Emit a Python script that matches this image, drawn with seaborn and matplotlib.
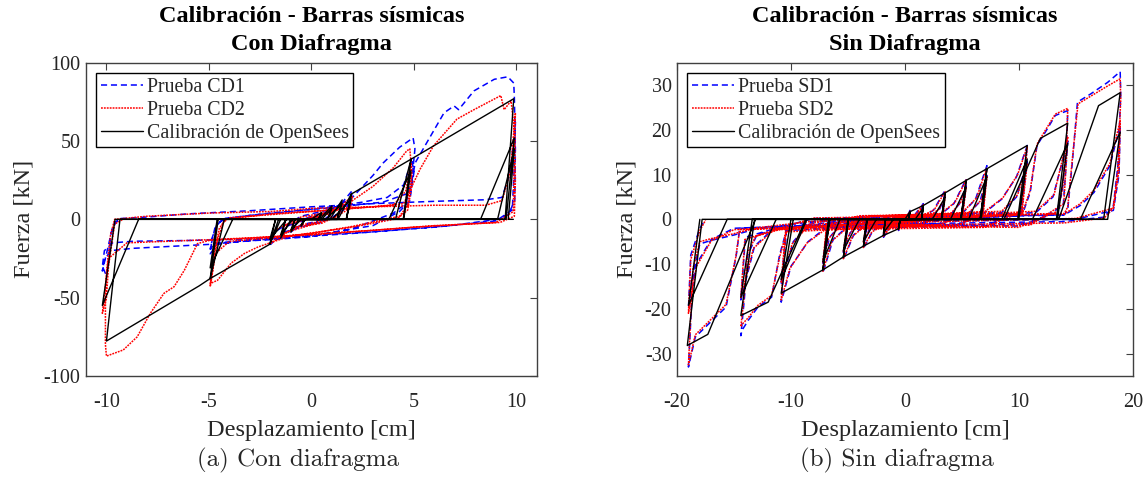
import matplotlib
matplotlib.use("Agg")
import matplotlib.pyplot as plt
import pandas as pd
import seaborn as sns

# ---- hysteresis paths: (displacement [cm], force [kN]) ----
# Con diafragma
cd1_pts = [
    (0.0, 0.0), (0.5, 3.0), (1.0, 7.0), (0.9, 2.0), (0.2, -1.5), (-0.5, -3.5), (-1.0, -8.0),
    (-0.9, -3.0), (0.0, 1.0), (0.9, 4.0), (1.5, 11.0), (1.4, 4.0), (0.5, -2.0), (-0.8, -5.0),
    (-1.5, -12.0), (-1.3, -5.0), (0.0, 2.0), (1.2, 6.0), (2.0, 18.5), (1.9, 9.0), (1.0, 1.0),
    (-0.5, -5.0), (-1.3, -8.0), (-2.0, -16.0), (-1.8, -8.0), (-0.5, 2.0),
    (1.0, 6.5), (2.0, 14.0), (3.0, 28.0), (3.5, 36.0), (4.3, 46.0), (4.96, 52.0), (5.05, 45.0),
    (4.9, 25.0), (4.6, 10.0), (4.0, 4.0), (2.0, -6.0), (0.0, -11.0), (-2.0, -13.0), (-3.5, -14.0),
    (-4.6, -16.0), (-4.94, -22.0), (-4.85, -12.0), (-4.6, -3.0), (-4.2, 0.5), (-3.0, 2.5),
    (-1.0, 5.0), (1.0, 8.0), (2.5, 11.0), (3.7, 14.0), (4.5, 22.0), (4.9, 38.0), (5.0, 30.0),
    (4.8, 12.0), (4.3, 5.0), (3.0, -4.0), (0.0, -10.5), (-3.0, -13.5), (-4.7, -15.0),
    (-4.94, -19.0), (-4.7, -5.0), (-4.3, 0.5), (-2.0, 4.0), (1.0, 7.5), (3.5, 11.0), (4.8, 17.0),
    (5.06, 36.0), (5.63, 49.0), (6.47, 68.0), (6.96, 72.4), (7.18, 70.0), (7.93, 82.0),
    (8.92, 89.4), (9.58, 91.0), (9.87, 87.0), (9.9, 78.0), (9.95, 45.0), (9.92, 12.0), (9.6, 3.0),
    (9.1, 0.0), (6.78, -4.0), (2.68, -8.3), (-0.6, -10.4), (-3.0, -12.5), (-6.0, -13.5),
    (-8.7, -14.0), (-9.7, -15.0), (-10.1, -20.0), (-10.2, -30.0), (-10.0, -36.0), (-9.9, -28.0),
    (-9.8, -10.0), (-9.6, -2.0), (-9.3, 0.5), (-8.0, 1.5), (-6.0, 3.5), (-3.0, 5.5), (0.0, 8.0),
    (3.0, 10.0), (6.0, 11.5), (8.5, 12.5), (9.3, 14.0), (9.7, 30.0), (9.9, 55.0), (9.95, 62.0),
    (9.9, 35.0), (9.8, 6.0), (9.0, -1.0), (6.0, -5.0), (2.0, -9.0), (-2.0, -12.5), (-5.0, -16.0),
    (-8.7, -18.5), (-9.8, -20.0), (-10.1, -26.0), (-10.2, -33.0), (-10.0, -22.0), (-9.7, -5.0),
    (-9.4, 0.0),
]
cd2_pts = [
    (0.0, 0.0), (0.5, 2.5), (1.0, 6.5), (0.9, 1.5), (0.2, -2.0), (-0.5, -3.5), (-1.0, -7.5),
    (-0.9, -2.5), (0.0, 1.0), (0.9, 3.5), (1.5, 10.0), (1.4, 3.0), (0.5, -2.5), (-0.8, -5.0),
    (-1.5, -11.0), (-1.3, -4.0), (0.0, 1.5), (1.2, 5.5), (2.0, 15.0), (1.9, 7.0), (1.0, 0.5),
    (-0.5, -5.5), (-1.3, -8.5), (-2.0, -15.5), (-1.8, -7.0), (-0.5, 1.5),
    (1.0, 5.0), (2.0, 12.0), (3.0, 21.0), (4.0, 33.0), (4.65, 43.7), (4.8, 45.0), (4.9, 30.0),
    (4.7, 9.0), (4.3, 2.0), (2.0, -4.5), (0.0, -9.0), (-2.0, -12.0), (-4.0, -14.0), (-4.7, -22.0),
    (-4.94, -43.0), (-4.85, -36.0), (-4.6, -14.0), (-4.3, -2.0), (-4.0, 1.0), (-2.0, 3.0),
    (0.0, 5.0), (2.0, 7.0), (4.0, 9.0), (4.6, 18.0), (4.85, 35.0), (4.9, 22.0), (4.7, 6.0),
    (4.2, 0.5), (2.0, -5.0), (-1.0, -10.5), (-2.6, -17.6), (-3.27, -21.8), (-3.92, -28.0),
    (-4.58, -38.9), (-4.94, -41.0), (-4.8, -25.0), (-4.5, -6.0), (-4.2, 0.0), (-2.0, 3.5),
    (1.0, 6.0), (3.0, 8.0), (4.5, 10.0),
    (5.3, 32.0), (5.96, 47.0), (7.1, 64.0), (7.93, 70.0), (9.24, 79.0), (9.4, 70.0),
    (9.74, 75.6), (9.9, 57.0), (9.95, 25.0), (9.9, 2.0), (9.2, -2.0), (6.0, -4.0), (3.0, -7.0),
    (0.0, -9.4), (-3.0, -12.0), (-5.0, -13.5), (-5.56, -15.5), (-6.2, -32.5), (-6.7, -43.0),
    (-7.2, -47.3), (-7.86, -60.0), (-8.5, -75.0), (-9.18, -83.4), (-10.0, -87.3),
    (-10.05, -80.0), (-10.05, -55.0), (-10.0, -34.0), (-9.8, -10.0), (-9.6, 0.0), (-8.0, 2.0),
    (-5.0, 4.0), (-2.0, 5.0), (0.0, 7.0), (3.0, 8.0), (6.0, 9.0), (8.5, 9.0), (9.3, 12.0),
    (9.7, 30.0), (9.9, 60.0), (9.95, 68.0), (9.9, 40.0), (9.85, 5.0), (9.0, -2.0), (5.0, -5.0),
    (0.0, -10.0), (-5.0, -13.0), (-9.0, -15.0), (-9.9, -25.0), (-10.2, -60.0), (-10.0, -50.0),
    (-9.9, -30.0), (-9.6, -3.0), (-9.2, 0.0),
]
os_cd_pts = [
    (0.0, 0.0), (0.5, 4.5), (0.35, 0.0), (-0.3, 0.0), (-0.5, -4.3), (-0.35, 0.0),
    (0.3, 0.0), (0.5, 3.6), (0.35, 0.0), (-0.3, 0.0), (-0.5, -3.5), (-0.35, 0.0),
    (0.4, 0.0), (1.0, 8.6), (0.8, 0.0), (-0.6, 0.0), (-1.0, -8.2), (-0.8, 0.0),
    (0.5, 0.0), (1.0, 7.0), (0.8, 0.0), (-0.5, 0.0), (-1.0, -6.8), (-0.8, 0.0),
    (0.9, 0.0), (1.5, 12.4), (1.25, 0.0), (-1.0, 0.0), (-1.5, -12.0), (-1.25, 0.0),
    (0.7, 0.0), (1.5, 10.2), (1.25, 0.0), (-0.9, 0.0), (-1.5, -9.8), (-1.25, 0.0),
    (1.3, 0.0), (1.94, 16.1), (1.7, 0.0), (-1.5, 0.0), (-2.03, -15.9), (-1.75, 0.0),
    (1.0, 0.0), (1.94, 13.0), (1.7, 0.0), (-1.2, 0.0), (-2.03, -12.8), (-1.75, 0.0),
    (1.7, 0.0), (1.94, 16.1), (4.86, 38.4), (4.48, 0.0), (-1.6, 0.0), (-2.03, -15.9),
    (-4.94, -37.8), (-4.55, 0.0), (3.78, 0.0), (4.86, 31.0), (4.5, 0.0), (-3.84, 0.0),
    (-4.94, -31.0), (-4.6, 0.0), (4.1, 0.0), (4.86, 38.4), (9.87, 77.0), (9.45, 0.0),
    (-4.25, 0.0), (-4.94, -37.8), (-5.48, -42.5), (-10.0, -77.7), (-9.34, 0.0),
    (8.25, 0.0), (9.9, 52.0), (9.5, 0.0), (-8.43, 0.0), (-10.2, -55.0), (-9.58, 0.0),
    (9.08, 0.0), (9.9, 45.0), (9.6, 0.0), (9.85, 0.0),
]

# Sin diafragma
sd1_pts = [
    (0.0, 0.0), (0.44, 2.0), (0.2, 0.3), (-0.3, -0.3), (-0.56, -2.5), (-0.3, -0.4), (0.2, 0.2),
    (0.8, 0.8), (1.62, 3.5), (1.4, 0.2), (0.5, -0.6), (-1.0, -0.8), (-1.88, -4.0), (-1.6, -0.6),
    (-0.5, 0.4), (0.9, 0.5), (1.62, 3.0), (1.35, 0.1), (-1.0, -0.5), (-1.88, -3.4), (-1.6, -0.4),
    (1.5, 0.5), (2.5, 2.0), (3.53, 6.5), (3.2, 0.3), (1.5, -0.8), (-1.8, -1.0), (-2.8, -2.5),
    (-3.64, -6.5), (-3.3, -0.7), (-1.5, 0.5), (2.2, 0.6), (3.0, 2.0), (3.53, 5.2), (3.25, 0.2),
    (-2.3, -0.6), (-3.1, -2.0), (-3.64, -5.3), (-3.3, -0.5),
    (3.0, 0.8), (4.3, 3.5), (5.38, 9.0), (5.0, 0.5), (3.0, -1.0), (-3.5, -1.2), (-4.5, -3.5),
    (-5.4, -9.0), (-5.0, -1.0), (-3.0, 0.6), (4.0, 1.0), (4.8, 3.5), (5.38, 7.5), (5.0, 0.4),
    (-4.0, -0.8), (-4.8, -3.0), (-5.4, -7.4), (-5.0, -0.7),
    (5.0, 1.2), (6.2, 4.5), (7.2, 12.0), (6.8, 0.8), (4.5, -1.2), (-5.0, -1.5), (-6.3, -4.5),
    (-7.2, -12.0), (-6.8, -1.2), (-4.0, 0.6), (5.5, 1.0), (6.6, 4.0), (7.2, 9.8), (6.8, 0.6),
    (-5.6, -1.0), (-6.6, -4.0), (-7.2, -9.8), (-6.8, -0.8),
    (7.0, 1.5), (8.5, 4.5), (9.8, 9.5), (10.74, 16.5), (10.2, 1.5), (7.0, -1.5), (-7.0, -2.0),
    (-8.5, -5.0), (-10.0, -10.5), (-10.86, -18.5), (-10.4, -2.5), (-8.0, -0.5), (-4.0, 0.5),
    (8.5, 1.5), (9.8, 5.0), (10.74, 13.0), (10.2, 0.8), (-8.6, -1.5), (-9.8, -5.0),
    (-10.86, -14.5), (-10.4, -1.8),
    (10.3, 1.0), (11.0, 6.0), (11.6, 16.5), (12.5, 20.2), (13.2, 23.2), (14.3, 24.3),
    (14.2, 17.0), (13.8, 6.0), (13.3, 1.5), (10.0, -1.5), (0.0, -1.2), (-10.4, -2.5),
    (-11.0, -8.0), (-11.7, -17.4), (-12.9, -19.6), (-13.76, -22.6), (-14.3, -24.8),
    (-14.4, -26.0), (-14.1, -18.0), (-13.8, -8.0), (-13.0, -3.5), (-11.0, -2.0), (-8.0, -1.0),
    (0.0, 0.3), (11.5, 1.5), (13.0, 5.0), (14.3, 17.5), (13.9, 3.0), (11.0, -1.0), (0.0, -1.5),
    (-11.5, -2.0), (-13.2, -6.0), (-14.4, -18.0), (-14.0, -4.0), (-12.0, -2.5), (-8.0, 0.2),
    (14.0, 1.0), (14.3, 2.3), (14.7, 12.7), (15.15, 26.2), (16.3, 28.0), (17.8, 30.6),
    (18.9, 33.0), (18.95, 28.0), (18.7, 12.0), (18.3, 3.0), (17.5, 0.5), (14.0, -0.5),
    (0.0, -1.0), (-14.5, -2.0), (-14.8, -8.0), (-15.7, -19.6), (-17.2, -23.3), (-18.4, -26.3),
    (-19.0, -33.0), (-18.9, -28.0), (-18.6, -12.0), (-18.0, -5.5), (-17.0, -4.7),
    (-15.0, -3.5), (-13.0, -2.1), (-8.0, -0.5), (0.0, 0.2),
    (14.0, 1.0), (15.4, 3.1), (16.6, 6.0), (18.0, 12.0), (18.9, 21.0), (18.8, 10.0),
    (18.3, 2.0), (15.0, 0.0), (0.0, -0.5), (-15.0, -2.0), (-17.0, -4.5), (-18.3, -10.0),
    (-19.0, -20.0), (-18.8, -8.0), (-18.0, -2.0), (-17.5, 0.0),
]
sd2_pts = [
    (0.0, 0.0), (0.44, 1.8), (0.25, 0.2), (-0.3, -0.5), (-0.56, -2.3), (-0.35, -0.5), (0.2, 0.3),
    (0.9, 1.0), (1.62, 3.3), (1.45, 0.4), (0.5, -0.8), (-1.0, -1.0), (-1.88, -3.8), (-1.65, -0.8),
    (-0.5, 0.5), (0.9, 0.7), (1.62, 2.8), (1.4, 0.3), (-1.0, -0.7), (-1.88, -3.2), (-1.65, -0.6),
    (1.5, 0.7), (2.6, 2.2), (3.53, 6.2), (3.25, 0.5), (1.5, -1.0), (-1.8, -1.3), (-2.9, -2.8),
    (-3.64, -6.3), (-3.35, -0.9), (-1.5, 0.6), (2.2, 0.8), (3.0, 2.3), (3.53, 5.0), (3.3, 0.4),
    (-2.3, -0.9), (-3.1, -2.3), (-3.64, -5.1), (-3.35, -0.7),
    (3.0, 1.0), (4.4, 3.8), (5.38, 8.8), (5.05, 0.7), (3.0, -1.2), (-3.5, -1.5), (-4.6, -3.8),
    (-5.4, -8.8), (-5.05, -1.2), (-3.0, 0.7), (4.0, 1.2), (4.9, 3.8), (5.38, 7.2), (5.05, 0.6),
    (-4.0, -1.0), (-4.9, -3.3), (-5.4, -7.2), (-5.05, -0.9),
    (5.0, 1.4), (6.3, 4.8), (7.2, 11.6), (6.85, 1.0), (4.5, -1.4), (-5.0, -1.8), (-6.4, -4.8),
    (-7.2, -11.6), (-6.85, -1.4), (-4.0, 0.8), (5.5, 1.2), (6.7, 4.3), (7.2, 9.5), (6.85, 0.8),
    (-5.6, -1.3), (-6.7, -4.3), (-7.2, -9.5), (-6.85, -1.0),
    (7.0, 1.7), (8.6, 4.8), (9.9, 10.0), (10.74, 16.2), (10.25, 1.8), (7.0, -1.8),
    (-7.0, -2.3), (-8.6, -5.3), (-10.1, -11.0), (-10.86, -18.0), (-10.45, -2.8), (-8.0, -0.8),
    (-4.0, 0.6), (8.5, 1.8), (9.9, 5.5), (10.74, 12.5), (10.25, 1.0), (-8.6, -1.8),
    (-9.9, -5.5), (-10.86, -14.0), (-10.45, -2.0),
    (10.3, 1.3), (11.0, 6.5), (11.6, 16.8), (12.5, 20.6), (13.2, 23.5), (14.3, 24.8),
    (14.2, 18.0), (13.85, 7.0), (13.4, 1.8), (10.0, -1.8), (0.0, -1.5), (-10.4, -2.8),
    (-11.0, -8.5), (-11.7, -17.0), (-12.9, -19.2), (-13.76, -22.0), (-14.3, -23.5),
    (-14.4, -24.0), (-14.1, -17.0), (-13.8, -7.5), (-13.1, -3.8), (-11.0, -2.3), (-8.0, -1.2),
    (0.0, 0.4), (11.5, 1.8), (13.1, 5.5), (14.3, 18.5), (13.95, 3.5), (11.0, -1.3), (0.0, -1.8),
    (-11.5, -2.3), (-13.3, -6.5), (-14.4, -17.5), (-14.05, -4.5), (-12.0, -2.8), (-8.0, 0.3),
    (14.0, 1.3), (14.3, 2.8), (14.7, 13.5), (15.2, 25.8), (16.3, 27.5), (17.8, 29.8),
    (18.9, 31.4), (18.95, 27.0), (18.7, 11.0), (18.3, 2.5), (17.5, 0.3), (14.0, -0.8),
    (0.0, -1.3), (-14.5, -2.3), (-14.85, -8.5), (-15.7, -19.0), (-17.2, -22.8), (-18.4, -25.8),
    (-19.0, -32.5), (-18.9, -27.0), (-18.6, -11.0), (-18.0, -5.0), (-17.0, -4.3),
    (-15.0, -3.2), (-13.0, -1.9), (-8.0, -0.4), (0.0, 0.3),
    (14.0, 1.2), (15.4, 3.5), (16.6, 6.5), (18.0, 12.5), (18.9, 22.0), (18.8, 11.0),
    (18.3, 2.5), (15.0, 0.2), (0.0, -0.7), (-15.0, -2.3), (-17.0, -4.8), (-18.3, -10.5),
    (-19.0, -21.0), (-18.8, -9.0), (-18.0, -2.5), (-17.5, -0.2),
]
os_sd_pts = [
    (0.0, 0.0), (0.44, 1.7), (0.3, 0.0), (-0.4, 0.0), (-0.56, -2.1), (-0.4, 0.0),
    (0.3, 0.0), (0.44, 1.4), (0.32, 0.0), (-0.4, 0.0), (-0.56, -1.7), (-0.42, 0.0),
    (0.3, 0.0), (0.44, 1.7), (1.62, 3.1), (1.45, 0.0), (-0.4, 0.0), (-0.56, -2.1),
    (-1.88, -3.6), (-1.7, 0.0), (0.9, 0.0), (1.62, 2.6), (1.48, 0.0), (-1.0, 0.0),
    (-1.88, -3.0), (-1.72, 0.0),
    (1.45, 0.0), (1.62, 3.1), (3.53, 5.9), (3.2, 0.0), (-1.7, 0.0), (-1.88, -3.6),
    (-3.64, -6.0), (-3.3, 0.0), (2.4, 0.0), (3.53, 4.9), (3.25, 0.0), (-2.5, 0.0),
    (-3.64, -5.0), (-3.35, 0.0),
    (3.2, 0.0), (3.53, 5.9), (5.38, 8.7), (4.9, 0.0), (-3.3, 0.0), (-3.64, -6.0),
    (-5.4, -8.4), (-4.95, 0.0), (4.0, 0.0), (5.38, 7.2), (4.95, 0.0), (-4.0, 0.0),
    (-5.4, -7.0), (-5.0, 0.0),
    (4.9, 0.0), (5.38, 8.7), (7.2, 11.3), (6.6, 0.0), (-4.95, 0.0), (-5.4, -8.4),
    (-7.2, -11.3), (-6.6, 0.0), (5.6, 0.0), (7.2, 9.5), (6.7, 0.0), (-5.7, 0.0),
    (-7.2, -9.5), (-6.7, 0.0),
    (6.6, 0.0), (7.2, 11.3), (10.74, 16.5), (9.9, 0.0), (-6.6, 0.0), (-7.2, -11.3),
    (-10.86, -16.5), (-9.8, 0.0), (8.5, 0.0), (10.74, 13.5), (10.0, 0.0), (-8.6, 0.0),
    (-10.86, -13.5), (-10.0, 0.0),
    (8.7, 0.0), (11.9, 18.1), (14.3, 21.5), (13.3, 0.0), (-8.7, 0.0), (-12.0, -18.5),
    (-14.4, -21.5), (-13.2, 0.0), (11.2, 0.0), (14.3, 17.0), (13.4, 0.0), (-11.3, 0.0),
    (-14.4, -17.4), (-13.4, 0.0),
    (13.5, 0.0), (17.0, 25.4), (18.9, 28.3), (17.45, 0.0), (-13.1, 0.0), (-17.3, -25.7),
    (-19.1, -28.2), (-17.8, 0.0), (15.4, 0.0), (18.9, 19.5), (17.8, 0.0), (-15.6, 0.0),
    (-19.0, -19.2), (-18.0, 0.0),
]

cd_labels = ["Prueba CD1", "Prueba CD2", "Calibración de OpenSees"]
sd_labels = ["Prueba SD1", "Prueba SD2", "Calibración de OpenSees"]
cd_xticks = [-10, -5, 0, 5, 10]
cd_yticks = [-100, -50, 0, 50, 100]
sd_xticks = [-20, -10, 0, 10, 20]
sd_yticks = [-30, -20, -10, 0, 10, 20, 30]

sns.set_theme(style="white")
plt.rcParams["font.family"] = ["Liberation Serif", "DejaVu Serif"]
plt.rcParams["axes.unicode_minus"] = False

AX_COLOR = "0.25"
TXT_COLOR = "#262626"


def path_frame(pts):
    return pd.DataFrame(pts, columns=["x", "y"])


def draw_panel(ax, test1, test2, calib, labels, xlim, ylim, xticks, yticks, title):
    sns.lineplot(data=path_frame(test1), x="x", y="y", sort=False, estimator=None,
                 color="#0000ff", linewidth=1.1, label=labels[0], ax=ax)
    ax.lines[-1].set_dashes((4, 2.5))
    sns.lineplot(data=path_frame(test2), x="x", y="y", sort=False, estimator=None,
                 color="#ff0000", linewidth=1.1, label=labels[1], ax=ax)
    ax.lines[-1].set_dashes((1.2, 0.7))
    sns.lineplot(data=path_frame(calib), x="x", y="y", sort=False, estimator=None,
                 color="black", linewidth=1.0, label=labels[2], ax=ax)

    ax.set_xlim(*xlim)
    ax.set_ylim(*ylim)
    ax.set_xticks(xticks)
    ax.set_yticks(yticks)
    ax.tick_params(direction="in", top=True, right=True, length=5, width=0.8,
                   color=AX_COLOR, labelsize=14.5, labelcolor=TXT_COLOR)
    ax.tick_params(axis="x", pad=12)
    ax.tick_params(axis="y", pad=4)
    for sp in ax.spines.values():
        sp.set_color(AX_COLOR)
        sp.set_linewidth(1.0)

    ax.set_title(title, fontsize=17.5, fontweight="bold", pad=9, linespacing=1.45,
                 color="black")
    ax.set_xlabel("Desplazamiento [cm]", fontsize=17.5, color=TXT_COLOR)
    ax.set_ylabel("Fuerza [kN]", fontsize=17.5, color=TXT_COLOR)

    leg = ax.legend(loc="upper left", fontsize=14.3, frameon=True, fancybox=False,
                    borderpad=0.25, labelspacing=0.2, handlelength=2.1,
                    handletextpad=0.2, borderaxespad=0.5)
    leg.get_frame().set_edgecolor("black")
    leg.get_frame().set_linewidth(1.0)
    leg.get_frame().set_alpha(1.0)


fig = plt.figure(figsize=(11.46, 4.8), dpi=100)
ax1 = fig.add_axes([0.0750, 0.2167, 0.3935, 0.6527])
ax2 = fig.add_axes([0.5908, 0.2167, 0.3976, 0.6527])

draw_panel(ax1, cd1_pts, cd2_pts, os_cd_pts, cd_labels, (-11, 11), (-100, 100),
           cd_xticks, cd_yticks, "Calibración - Barras sísmicas\nCon Diafragma")
draw_panel(ax2, sd1_pts, sd2_pts, os_sd_pts, sd_labels, (-20, 20), (-35, 35),
           sd_xticks, sd_yticks, "Calibración - Barras sísmicas\nSin Diafragma")

ax1.xaxis.set_label_coords(0.5, -0.14)
ax2.xaxis.set_label_coords(0.5, -0.14)
ax1.yaxis.set_label_coords(-0.114, 0.5)
ax2.yaxis.set_label_coords(-0.086, 0.5)

fig.text(0.260, 0.040, "(a) Con diafragma", ha="center", va="center",
         fontsize=18, family="cmr10", color=TXT_COLOR)
fig.text(0.783, 0.040, "(b) Sin diafragma", ha="center", va="center",
         fontsize=18, family="cmr10", color=TXT_COLOR)

fig.savefig("out.png", dpi=100)
plt.close(fig)
